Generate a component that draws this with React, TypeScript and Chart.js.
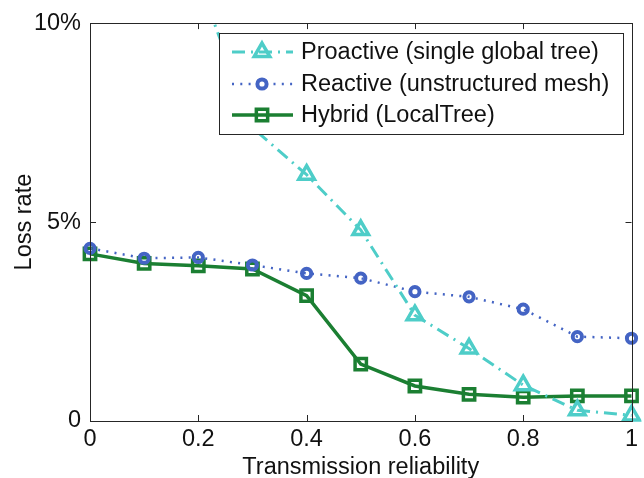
import React, { useEffect, useRef } from "react";
import { Chart, registerables } from "chart.js";

Chart.register(...registerables);

const xValues = [0, 0.1, 0.2, 0.3, 0.4, 0.5, 0.6, 0.7, 0.8, 0.9, 1.0];
const proactive = [16.5, 13.8, 11.1, 7.37, 6.19, 4.8, 2.66, 1.82, 0.9, 0.27, 0.14];
const reactive = [4.34, 4.09, 4.11, 3.92, 3.71, 3.59, 3.25, 3.12, 2.81, 2.12, 2.08];
const hybrid = [4.2, 3.96, 3.9, 3.82, 3.15, 1.43, 0.88, 0.67, 0.6, 0.63, 0.63];
const seriesLabels = [
  "Proactive (single global tree)",
  "Reactive (unstructured mesh)",
  "Hybrid (LocalTree)",
];
const xTitle = "Transmission reliability";
const yTitle = "Loss rate";

const FONT = "'Liberation Sans', Arial, Helvetica, sans-serif";
const FS = 23.5;
const TEAL = "#4ecdc8";
const BLUE = "#4464c4";
const GREEN = "#1b7f32";
const FRAME = "#262626";

const pts = (ys: number[]) => xValues.map((x, i) => ({ x, y: ys[i] }));

function drawMarker(ctx: CanvasRenderingContext2D, style: string, r: number, x: number, y: number) {
  ctx.beginPath();
  if (style === "triangle") {
    let rad = 0;
    ctx.moveTo(x + Math.sin(rad) * r, y - Math.cos(rad) * r);
    rad += (2 * Math.PI) / 3;
    ctx.lineTo(x + Math.sin(rad) * r, y - Math.cos(rad) * r);
    rad += (2 * Math.PI) / 3;
    ctx.lineTo(x + Math.sin(rad) * r, y - Math.cos(rad) * r);
    ctx.closePath();
  } else if (style === "rect") {
    const s = r * Math.SQRT1_2;
    ctx.rect(x - s, y - s, 2 * s, 2 * s);
  } else {
    ctx.arc(x, y, r, 0, Math.PI * 2);
    ctx.closePath();
  }
  ctx.stroke();
}

const framePlugin = {
  id: "frameTicks",
  afterDatasetsDraw(chart: any) {
    const { ctx, chartArea: a, scales } = chart;
    const xs = scales.x;
    const ys = scales.y;
    const tl = 6;
    ctx.save();
    ctx.strokeStyle = FRAME;
    ctx.lineWidth = 1;
    ctx.beginPath();
    xs.ticks.forEach((t: any) => {
      const px = Math.round(xs.getPixelForValue(t.value)) + 0.5;
      if (Math.abs(px - a.left) < 2 || Math.abs(px - a.right) < 2) return;
      ctx.moveTo(px, a.top);
      ctx.lineTo(px, a.top + tl);
      ctx.moveTo(px, a.bottom);
      ctx.lineTo(px, a.bottom - tl);
    });
    ys.ticks.forEach((t: any) => {
      const py = Math.round(ys.getPixelForValue(t.value)) + 0.5;
      if (Math.abs(py - a.top) < 2 || Math.abs(py - a.bottom) < 2) return;
      ctx.moveTo(a.left, py);
      ctx.lineTo(a.left + tl, py);
      ctx.moveTo(a.right, py);
      ctx.lineTo(a.right - tl, py);
    });
    ctx.stroke();
    ctx.strokeRect(
      Math.round(a.left) + 0.5,
      Math.round(a.top) + 0.5,
      Math.round(a.right - a.left),
      Math.round(a.bottom - a.top)
    );
    ctx.restore();
  },
};

const legendPlugin = {
  id: "boxLegend",
  afterDraw(chart: any) {
    const { ctx } = chart;
    const bx = 219.5, by = 33.5, bw = 404, bh = 101;
    ctx.save();
    ctx.fillStyle = "#ffffff";
    ctx.fillRect(bx, by, bw, bh);
    ctx.strokeStyle = FRAME;
    ctx.lineWidth = 1;
    ctx.strokeRect(bx, by, bw, bh);
    const rows = [52, 84, 115];
    chart.data.datasets.forEach((ds: any, i: number) => {
      const y = rows[i];
      ctx.save();
      ctx.strokeStyle = ds.borderColor;
      ctx.lineWidth = ds.borderWidth;
      ctx.setLineDash(ds.borderDash || []);
      ctx.beginPath();
      ctx.moveTo(232, y);
      ctx.lineTo(293, y);
      ctx.stroke();
      ctx.setLineDash([]);
      ctx.lineWidth = ds.pointBorderWidth;
      ctx.strokeStyle = ds.pointBorderColor;
      drawMarker(ctx, ds.pointStyle, ds.pointRadius, 262, y);
      ctx.restore();
      ctx.fillStyle = "#111111";
      ctx.font = `${FS}px ${FONT}`;
      ctx.textAlign = "left";
      ctx.textBaseline = "middle";
      ctx.fillText(ds.label, 301, y + 1);
    });
    ctx.restore();
  },
};

export default function App() {
  const ref = useRef<HTMLCanvasElement | null>(null);
  useEffect(() => {
    document.body.style.margin = "0";
    Chart.defaults.font.family = FONT;
    const clip = { left: 10, top: 0, right: 10, bottom: 10 };
    const chart = new Chart(ref.current as HTMLCanvasElement, {
      type: "line",
      data: {
        datasets: [
          {
            label: seriesLabels[0],
            data: pts(proactive),
            borderColor: TEAL,
            borderWidth: 3,
            borderDash: [13, 6, 2, 6],
            pointStyle: "triangle",
            pointRadius: 9,
            pointBorderWidth: 3.5,
            pointBorderColor: TEAL,
            pointBackgroundColor: "rgba(0,0,0,0)",
            clip,
          },
          {
            label: seriesLabels[1],
            data: pts(reactive),
            borderColor: BLUE,
            borderWidth: 2.5,
            borderDash: [2, 6.3],
            pointStyle: "circle",
            pointRadius: 4.6,
            pointBorderWidth: 4,
            pointBorderColor: BLUE,
            pointBackgroundColor: "rgba(0,0,0,0)",
            clip,
          },
          {
            label: seriesLabels[2],
            data: pts(hybrid),
            borderColor: GREEN,
            borderWidth: 3.5,
            pointStyle: "rect",
            pointRadius: 8,
            pointBorderWidth: 3.5,
            pointBorderColor: GREEN,
            pointBackgroundColor: "rgba(0,0,0,0)",
            clip,
          },
        ] as any,
      },
      options: {
        animation: false,
        responsive: false,
        devicePixelRatio: 1,
        layout: { padding: { left: 0, top: 23, right: 12, bottom: 0 } },
        plugins: { legend: { display: false }, tooltip: { enabled: false } },
        elements: { line: { tension: 0 } },
        scales: {
          x: {
            type: "linear",
            min: 0,
            max: 1,
            grid: { display: false, drawTicks: false },
            border: { display: false },
            afterFit: (s: any) => {
              s.height = 57;
            },
            ticks: {
              stepSize: 0.2,
              padding: 4.5,
              color: "#111111",
              font: { size: FS },
              maxRotation: 0,
              callback: (v: any) => {
                const n = Number(v);
                if (Math.abs(n) < 1e-9) return "0";
                if (Math.abs(n - 1) < 1e-9) return "1";
                return n.toFixed(1);
              },
            },
            title: {
              display: true,
              text: xTitle,
              color: "#111111",
              font: { size: FS, lineHeight: 1 },
              padding: { top: 0, bottom: -1.5 },
            },
          },
          y: {
            type: "linear",
            min: 0,
            max: 10,
            grid: { display: false, drawTicks: false },
            border: { display: false },
            afterFit: (s: any) => {
              s.width = 90;
            },
            ticks: {
              stepSize: 5,
              padding: 9,
              color: "#111111",
              font: { size: FS },
              callback: (v: any) => {
                const n = Number(v);
                if (Math.abs(n) < 1e-9) return "0";
                return `${Math.round(n)}%`;
              },
            },
            title: {
              display: true,
              text: yTitle,
              color: "#111111",
              font: { size: FS, lineHeight: 1 },
              padding: { top: 13, bottom: 0 },
            },
          },
        },
      } as any,
      plugins: [framePlugin, legendPlugin],
    });
    return () => chart.destroy();
  }, []);
  return (
    <div style={{ position: "fixed", left: 0, top: 0, width: 644, height: 478, background: "#ffffff" }}>
      <canvas ref={ref} width={644} height={478} style={{ width: 644, height: 478, display: "block" }} />
    </div>
  );
}
